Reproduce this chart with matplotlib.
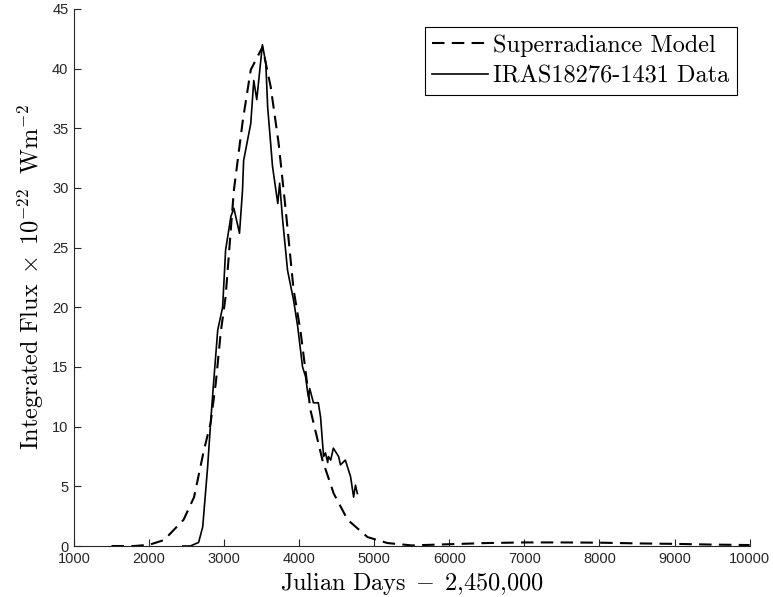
import matplotlib
matplotlib.use("Agg")
import matplotlib.pyplot as plt

plt.rcParams['mathtext.fontset'] = 'cm'
plt.rcParams['font.family'] = ['Liberation Sans', 'DejaVu Sans']

# superradiance model (dashed)
model_days = [1500, 1800, 2000, 2200, 2460, 2600, 2730, 2820, 2890, 2955, 3020, 3130,
              3250, 3355, 3510, 3620, 3725, 3820, 3925, 4020, 4150, 4310, 4460,
              4645, 4910, 5175, 5500, 6000, 6500, 7000, 7500, 8000, 8500, 9000,
              9500, 10000]
model_flux = [0.0, 0.0, 0.1, 0.5, 2.2, 4.1, 8.0, 10.3, 13.7, 17.9, 20.9, 29.8,
              35.7, 39.9, 41.8, 38.5, 33.8, 28.2, 21.5, 17.9, 11.4, 7.2, 4.4,
              2.2, 0.75, 0.25, 0.05, 0.15, 0.25, 0.3, 0.3, 0.28, 0.22, 0.18,
              0.12, 0.08]

# IRAS18276-1431 observations (solid)
data_days = [2450, 2550, 2660, 2715, 2780, 2820, 2860, 2915, 2980, 3020, 3090, 3130,
             3205, 3245, 3260, 3355, 3395, 3435, 3510, 3555, 3580, 3645, 3715,
             3740, 3780, 3845, 3925, 3980, 4045, 4085, 4110, 4125, 4140, 4190,
             4255, 4285, 4325, 4350, 4380, 4390, 4420, 4455, 4525, 4550, 4615,
             4685, 4725, 4750, 4775]
data_flux = [0.0, 0.0, 0.3, 1.6, 6.6, 10.3, 13.7, 18.1, 20.0, 24.8, 27.6, 28.3,
             26.2, 29.8, 32.3, 35.4, 39.0, 37.4, 42.0, 40.5, 36.8, 31.8, 28.7,
             30.4, 27.3, 23.1, 20.6, 18.4, 15.0, 14.2, 13.0, 12.5, 13.2, 12.0,
             12.0, 10.8, 7.5, 7.8, 7.0, 7.5, 7.2, 8.2, 7.5, 6.8, 7.2, 5.8, 4.1,
             5.1, 4.4]

fig = plt.figure(figsize=(7.73, 5.97), dpi=100)
ax = fig.add_axes([0.0957, 0.0854, 0.874, 0.8996])

ax.plot(model_days, model_flux, color='k', lw=1.5, ls=(0, (6, 3.5)),
        label='Superradiance Model')
ax.plot(data_days, data_flux, color='k', lw=1.2, label='IRAS18276-1431 Data')

ax.set_xlim(1000, 10000)
ax.set_ylim(0, 45)
ax.set_xticks(range(1000, 10001, 1000))
ax.set_yticks(range(0, 46, 5))
ax.spines['top'].set_visible(False)
ax.spines['right'].set_visible(False)
for s in ('left', 'bottom'):
    ax.spines[s].set_color('#262626')
ax.tick_params(direction='in', length=5, width=0.8, colors='#262626',
               labelsize=10.5, pad=4)

ax.set_xlabel(r'$\mathrm{Julian\ Days}\;-\;2{,}450{,}000$', fontsize=17.5,
              labelpad=3)
ax.set_ylabel(r'$\mathrm{Integrated\ Flux}\;\times\;10^{-22}\ \ \mathrm{Wm}^{-2}$',
              fontsize=17.5, labelpad=4)

leg = ax.legend(loc='upper right', bbox_to_anchor=(0.981, 0.966),
                prop={'family': 'cmr10', 'size': 17.5},
                frameon=True, fancybox=False, edgecolor='k', framealpha=1,
                borderpad=0.3, handlelength=2.3, handletextpad=0.2,
                labelspacing=0.35, borderaxespad=0)
leg.get_frame().set_linewidth(0.8)

fig.savefig('out.png', dpi=100)
